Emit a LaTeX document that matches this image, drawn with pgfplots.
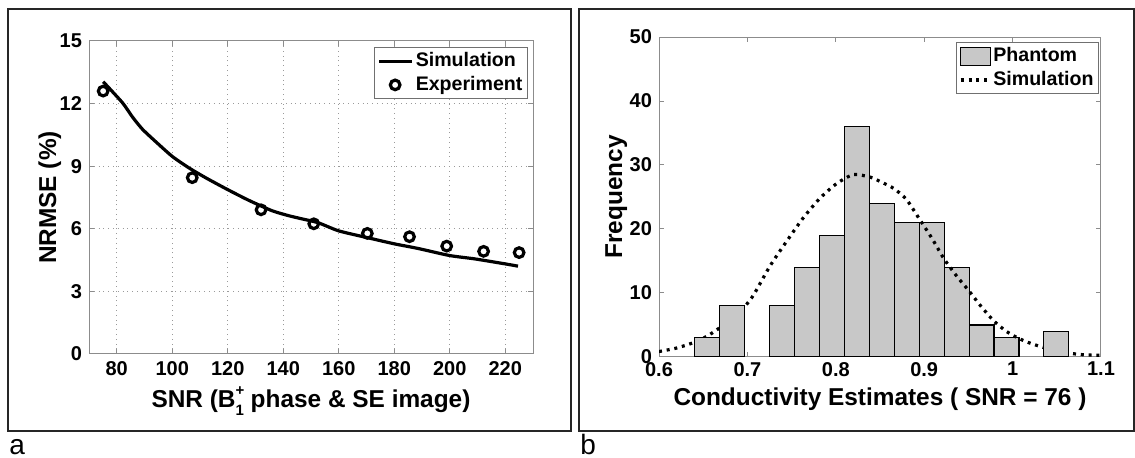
\documentclass[border=0pt]{standalone}
\usepackage{fontspec}
\setmainfont{Liberation Sans}
\usepackage{pgfplots}
\pgfplotsset{compat=1.18}
\definecolor{axgray}{HTML}{8C8C8C}
\definecolor{gridgray}{HTML}{9A9A9A}
\definecolor{bargray}{HTML}{C8C8C8}
\definecolor{boxgray}{HTML}{707070}

% NRMSE vs SNR, simulation curve
\pgfplotstableread{
x y
75.1 13.05
82 12.05
85.6 11.37
89.2 10.78
94 10.18
100 9.47
106 8.92
112 8.45
119.8 7.89
127.5 7.37
135.9 6.87
141.9 6.63
146.6 6.48
152.6 6.29
160 5.90
170.5 5.57
180 5.28
188.5 5.06
199.9 4.72
208.9 4.56
219.9 4.32
224.6 4.21
}\nrmsesim

\pgfplotstableread{
x y
75.1 12.60
107.2 8.45
132 6.91
151 6.24
170.3 5.78
185.5 5.62
198.9 5.17
212.2 4.92
225 4.86
}\nrmseexp

% conductivity, simulated density
\pgfplotstableread{
x y
0.600 0.85
0.620 1.4
0.640 2.3
0.655 3.3
0.669 4.6
0.683 6.1
0.697 7.9
0.707 9.7
0.7255 14.2
0.744 18.0
0.763 21.7
0.782 24.8
0.801 27.1
0.820 28.5
0.839 28.1
0.852 27.3
0.866 26.3
0.880 24.6
0.8944 21.6
0.9085 18.6
0.9226 15.3
0.937 12.6
0.9508 10.3
0.965 7.8
0.979 5.6
0.993 4.0
1.007 2.9
1.021 2.1
1.035 1.5
1.050 1.0
1.064 0.6
1.080 0.35
1.100 0.25
}\condsim

\pgfplotsset{
  matstyle/.style={
    scale only axis,
    anchor=south west,
    axis line style={axgray, line width=0.5pt},
    tick style={axgray, line width=0.5pt},
    tick align=inside,
    major tick length=2.5pt,
    xtick pos=both, ytick pos=both,
    tick label style={font=\bfseries\fontsize{10}{11}\selectfont, black},
    label style={font=\bfseries\fontsize{12.2}{14}\selectfont},
    legend cell align=left,
    legend style={draw=boxgray, line width=0.5pt, fill=white,
      font=\bfseries\fontsize{9.8}{11.5}\selectfont,
      inner xsep=1.5pt, inner ysep=1pt,
      nodes={inner xsep=1pt, inner ysep=1.6pt}},
  },
  lineimgA/.style={legend image code/.code={\draw[##1] (0pt,0pt) -- (16.5pt,0pt);}},
  markimg/.style={legend image code/.code={\draw[##1] plot coordinates {(8pt,0pt)};}},
  lineimgB/.style={legend image code/.code={\draw[##1] (0pt,0pt) -- (14.5pt,0pt);}},
  barimg/.style={legend image code/.code={\draw[fill=bargray, draw=black, line width=0.6pt] (0pt,-4.5pt) rectangle (15pt,4.5pt);}},
}
\newcommand{\smallsc}[1]{{\fontsize{7.5}{7.5}\selectfont #1}}

\begin{document}
\begin{tikzpicture}
\path (0pt,0pt) rectangle (567.5pt,-229pt);
\draw[line width=0.6pt, black!85] (4pt,-4.5pt) rectangle (285.5pt,-215.5pt);
\draw[line width=0.6pt, black!85] (289.5pt,-4.5pt) rectangle (567pt,-215.5pt);
\node[anchor=base west, inner sep=0pt, font=\fontsize{14}{14}\selectfont] at (4.5pt,-227.5pt) {a};
\node[anchor=base west, inner sep=0pt, font=\fontsize{14}{14}\selectfont] at (290pt,-227.5pt) {b};

\begin{axis}[
  matstyle,
  at={(44.5pt,-177pt)},
  width=222pt, height=156.5pt,
  xmin=70, xmax=230, ymin=0, ymax=15,
  xtick={80,100,120,140,160,180,200,220},
  xticklabels={80,100,120,140,160,180,200,220},
  ytick={0,3,6,9,12,15},
  yticklabels={0,3,6,9,12,15},
  grid=major,
  grid style={gridgray, dotted, line width=0.5pt},
  xlabel={SNR (B\rlap{\raisebox{0.95ex}{\smallsc{+}}}\raisebox{-0.55ex}{\smallsc{1}} phase \& SE image)},
  ylabel={NRMSE (\%)},
  xlabel style={at={(axis description cs:0.5,0)}, anchor=base, yshift=-27pt},
  ylabel style={at={(axis description cs:-0.0743,0.5)}, anchor=base},
  legend style={at={(1,1)}, anchor=north east, xshift=-2.5pt, yshift=-3pt},
]
\addplot[black, line width=1.6pt, smooth, tension=0.4, lineimgA] table {\nrmsesim};
\addlegendentry{Simulation}
\addplot[only marks, mark=o, mark size=2.4pt, black, line width=1.6pt, markimg] table {\nrmseexp};
\addlegendentry{Experiment}
\end{axis}

\begin{axis}[
  matstyle,
  at={(329.5pt,-178.5pt)},
  width=221pt, height=160pt,
  xmin=0.6, xmax=1.1, ymin=0, ymax=50,
  xtick={0.6,0.7,0.8,0.9,1,1.1},
  xticklabels={0.6,0.7,0.8,0.9,1,1.1},
  ytick={0,10,20,30,40,50},
  yticklabels={0,10,20,30,40,50},
  xticklabel style={yshift=1pt},
  xlabel={Conductivity Estimates ( SNR = 76 )},
  ylabel={Frequency},
  xlabel style={at={(axis description cs:0.5,0)}, anchor=base, yshift=-24.5pt},
  ylabel style={at={(axis description cs:-0.0837,0.5)}, anchor=base},
  legend style={at={(1,1)}, anchor=north east, xshift=-1pt, yshift=-2.5pt},
]
\addplot[ybar interval, fill=bargray, draw=black, line width=0.6pt, barimg]
  coordinates {(0.7252,8) (0.7534,14) (0.7816,19) (0.8098,36) (0.8380,24)
    (0.8662,21) (0.8944,21) (0.9226,14) (0.9508,5) (0.9790,3) (1.0072,0)};
\addlegendentry{Phantom}
\addplot[black, line width=1.6pt, dash pattern=on 1.5pt off 2.4pt, smooth, tension=0.4, lineimgB] table {\condsim};
\addlegendentry{Simulation}
\addplot[ybar interval, fill=bargray, draw=black, line width=0.6pt, forget plot]
  coordinates {(0.6406,3) (0.6688,8) (0.6970,0)};
\addplot[ybar interval, fill=bargray, draw=black, line width=0.6pt, forget plot]
  coordinates {(1.0354,4) (1.0636,0)};
\end{axis}
\end{tikzpicture}
\end{document}
